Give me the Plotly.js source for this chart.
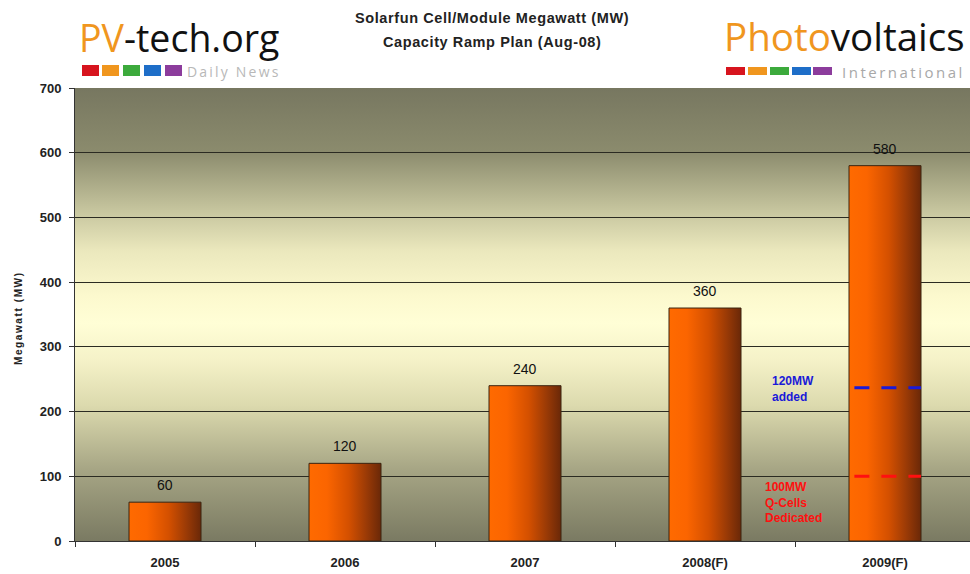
<!DOCTYPE html>
<html>
<head>
<meta charset="utf-8">
<script src="https://cdn.plot.ly/plotly-3.0.1.min.js"></script>
<style>html,body{margin:0;padding:0;background:#fff;}#chart{width:970px;height:574px;}</style>
</head>
<body>
<div id="chart"></div>
<script>
// ---- data ----
const years = ['2005', '2006', '2007', '2008(F)', '2009(F)'];
const capacityMW = [60, 120, 240, 360, 580];
const yTickValues = [0, 100, 200, 300, 400, 500, 600, 700];
const markerLevels = [237, 100];            // dashed levels on the 2009(F) bar
const markerColors = ['#1a1ad8', '#ff1010'];
const markerNotes = ['120MW<br>added', '100MW<br>Q-Cells<br>Dedicated'];
const titleLines = ['Solarfun Cell/Module Megawatt (MW)', 'Capacity Ramp Plan (Aug-08)'];

// ---- geometry helpers (layout only) ----
const W = 970, H = 574, ML = 75, MT = 88, MB = 33;
const PW = W - ML, PH = H - MT - MB;
const px = x => (x - ML) / PW;
const py = y => (H - MB - y) / PH;
const barWidth = 0.4;

const FONT = 'Liberation Sans, Arial, sans-serif';
const LOGO = 'Open Sans, Noto Sans, sans-serif';

const traces = [{
  type: 'bar',
  x: years,
  y: capacityMW,
  width: barWidth,
  marker: {color: '#e85a00', line: {color: '#3a2410', width: 1}},
  hoverinfo: 'x+y'
}];

const annotations = [];
// value labels (x given as category index so numeric-looking names are not misread)
years.forEach((yr, i) => annotations.push({
  x: i, y: capacityMW[i], xref: 'x', yref: 'y', text: String(capacityMW[i]),
  showarrow: false, yanchor: 'bottom', yshift: 7,
  font: {family: FONT, size: 14, color: '#111'}
}));
// title
titleLines.forEach((t, i) => annotations.push({
  x: px(492), y: py(18 + i * 24), xref: 'paper', yref: 'paper',
  text: '<b><span style="letter-spacing:0.6px">' + t + '</span></b>',
  showarrow: false, xanchor: 'center', yanchor: 'middle',
  font: {family: FONT, size: 14.5, color: '#222'}
}));
// y axis title
annotations.push({
  x: px(18), y: py(318), xref: 'paper', yref: 'paper',
  text: '<b><span style="letter-spacing:1.6px">Megawatt (MW)</span></b>',
  showarrow: false, textangle: -90, xanchor: 'center', yanchor: 'middle',
  font: {family: FONT, size: 10, color: '#222'}
});
// marker notes
markerNotes.forEach((t, i) => annotations.push({
  x: 3.49, y: markerLevels[i], xref: 'x', yref: 'y', text: '<b>' + t + '</b>',
  showarrow: false, xanchor: 'center', yanchor: i === 0 ? 'middle' : 'top',
  yshift: i === 0 ? -1 : -2, align: 'left',
  font: {family: FONT, size: 12, color: markerColors[i]}
}));
// logos
annotations.push({
  x: px(77), y: py(65), xref: 'paper', yref: 'paper', xanchor: 'left', yanchor: 'bottom',
  text: '<span style="color:#f0961e">PV</span>-tech.org', showarrow: false,
  font: {family: LOGO, size: 37.5, color: '#111'}
});
annotations.push({
  x: px(185), y: py(71), xref: 'paper', yref: 'paper', xanchor: 'left', yanchor: 'middle',
  text: '<span style="letter-spacing:2.2px">Daily News</span>', showarrow: false,
  font: {family: LOGO, size: 14, color: '#b8b8b8'}
});
annotations.push({
  x: px(722), y: py(64), xref: 'paper', yref: 'paper', xanchor: 'left', yanchor: 'bottom',
  text: '<span style="color:#f0961e">Photo</span>voltaics', showarrow: false,
  font: {family: LOGO, size: 38.5, color: '#111'}
});
annotations.push({
  x: px(840), y: py(72), xref: 'paper', yref: 'paper', xanchor: 'left', yanchor: 'middle',
  text: '<span style="letter-spacing:2.5px">International</span>', showarrow: false,
  font: {family: LOGO, size: 15, color: '#a8a8a8'}
});

const shapes = [];
// dashed levels across the 2009(F) bar
const lastIdx = years.indexOf('2009(F)');
markerLevels.forEach((v, i) => shapes.push({
  type: 'line', xref: 'x', yref: 'y',
  x0: lastIdx - barWidth / 2 + 0.03, x1: lastIdx + barWidth / 2, y0: v, y1: v,
  line: {color: markerColors[i], width: 3, dash: '15px,12px'}
}));
// logo colour squares
const sqColors = ['#d7141e', '#f0961e', '#3caa3c', '#1e6ec8', '#8c3c9c'];
const sqA = [82, 102, 123, 144, 165];
const sqB = [726, 748, 770, 792, 813];
sqColors.forEach((c, i) => {
  shapes.push({type: 'rect', xref: 'paper', yref: 'paper', x0: px(sqA[i]), x1: px(sqA[i] + 17),
    y0: py(76), y1: py(65), fillcolor: c, line: {width: 0}});
  shapes.push({type: 'rect', xref: 'paper', yref: 'paper', x0: px(sqB[i]), x1: px(sqB[i] + 19),
    y0: py(75), y1: py(67), fillcolor: c, line: {width: 0}});
});

const layout = {
  width: W, height: H,
  margin: {l: ML, r: 0, t: MT, b: MB, pad: 0},
  paper_bgcolor: '#ffffff',
  plot_bgcolor: '#f5f2c8',
  showlegend: false,
  bargap: 0.6,
  xaxis: {
    type: 'category', range: [-0.5, 4.5 - 5 / 180],
    showline: true, linecolor: '#333', linewidth: 1,
    ticks: 'outside', tickson: 'boundaries', ticklen: 5, tickcolor: '#333',
    ticklabelstandoff: 9,
    showgrid: false, zeroline: false,
    tickfont: {family: FONT, size: 13, color: '#222', weight: 'bold'}
  },
  yaxis: {
    range: [0, 700], tickvals: yTickValues, ticktext: yTickValues.map(String),
    showline: true, linecolor: '#333', linewidth: 1,
    ticks: 'outside', ticklen: 5, tickcolor: '#333',
    ticklabelstandoff: 5,
    showgrid: true, gridcolor: '#2b2b22', gridwidth: 1.2, zeroline: false,
    tickfont: {family: FONT, size: 13, color: '#222', weight: 'bold'}
  },
  annotations: annotations,
  shapes: shapes
};

Plotly.newPlot('chart', traces, layout, {displayModeBar: false, staticPlot: true}).then(gd => {
  const svg = gd.querySelector('svg.main-svg');
  let defs = svg.querySelector('defs');
  const NS = 'http://www.w3.org/2000/svg';
  if (!defs) { defs = document.createElementNS(NS, 'defs'); svg.insertBefore(defs, svg.firstChild); }
  function grad(id, vertical, stops) {
    const g = document.createElementNS(NS, 'linearGradient');
    g.setAttribute('id', id);
    g.setAttribute('x1', '0'); g.setAttribute('y1', '0');
    g.setAttribute('x2', vertical ? '0' : '1'); g.setAttribute('y2', vertical ? '1' : '0');
    stops.forEach(([o, c]) => {
      const s = document.createElementNS(NS, 'stop');
      s.setAttribute('offset', o); s.setAttribute('stop-color', c);
      g.appendChild(s);
    });
    defs.appendChild(g);
  }
  grad('bgGrad', true, [
    [0, '#777760'], [0.14, '#8b8b6d'], [0.27, '#c6c59e'], [0.36, '#ebe8bd'],
    [0.46, '#fcf9ce'], [0.52, '#fffed6'], [0.6, '#f5f2c8'], [0.7, '#dcdaae'],
    [0.84, '#a7a685'], [1, '#7a7a62']
  ]);
  grad('barGrad', false, [
    [0, '#ff6a00'], [0.25, '#fb6500'], [0.55, '#d45000'], [0.8, '#9a3a06'], [1, '#6a2808']
  ]);
  gd.querySelectorAll('.bglayer rect.bg').forEach(r => r.style.fill = 'url(#bgGrad)');
  gd.querySelectorAll('.trace.bars .point path').forEach(p => p.style.fill = 'url(#barGrad)');
});
</script>
</body>
</html>
